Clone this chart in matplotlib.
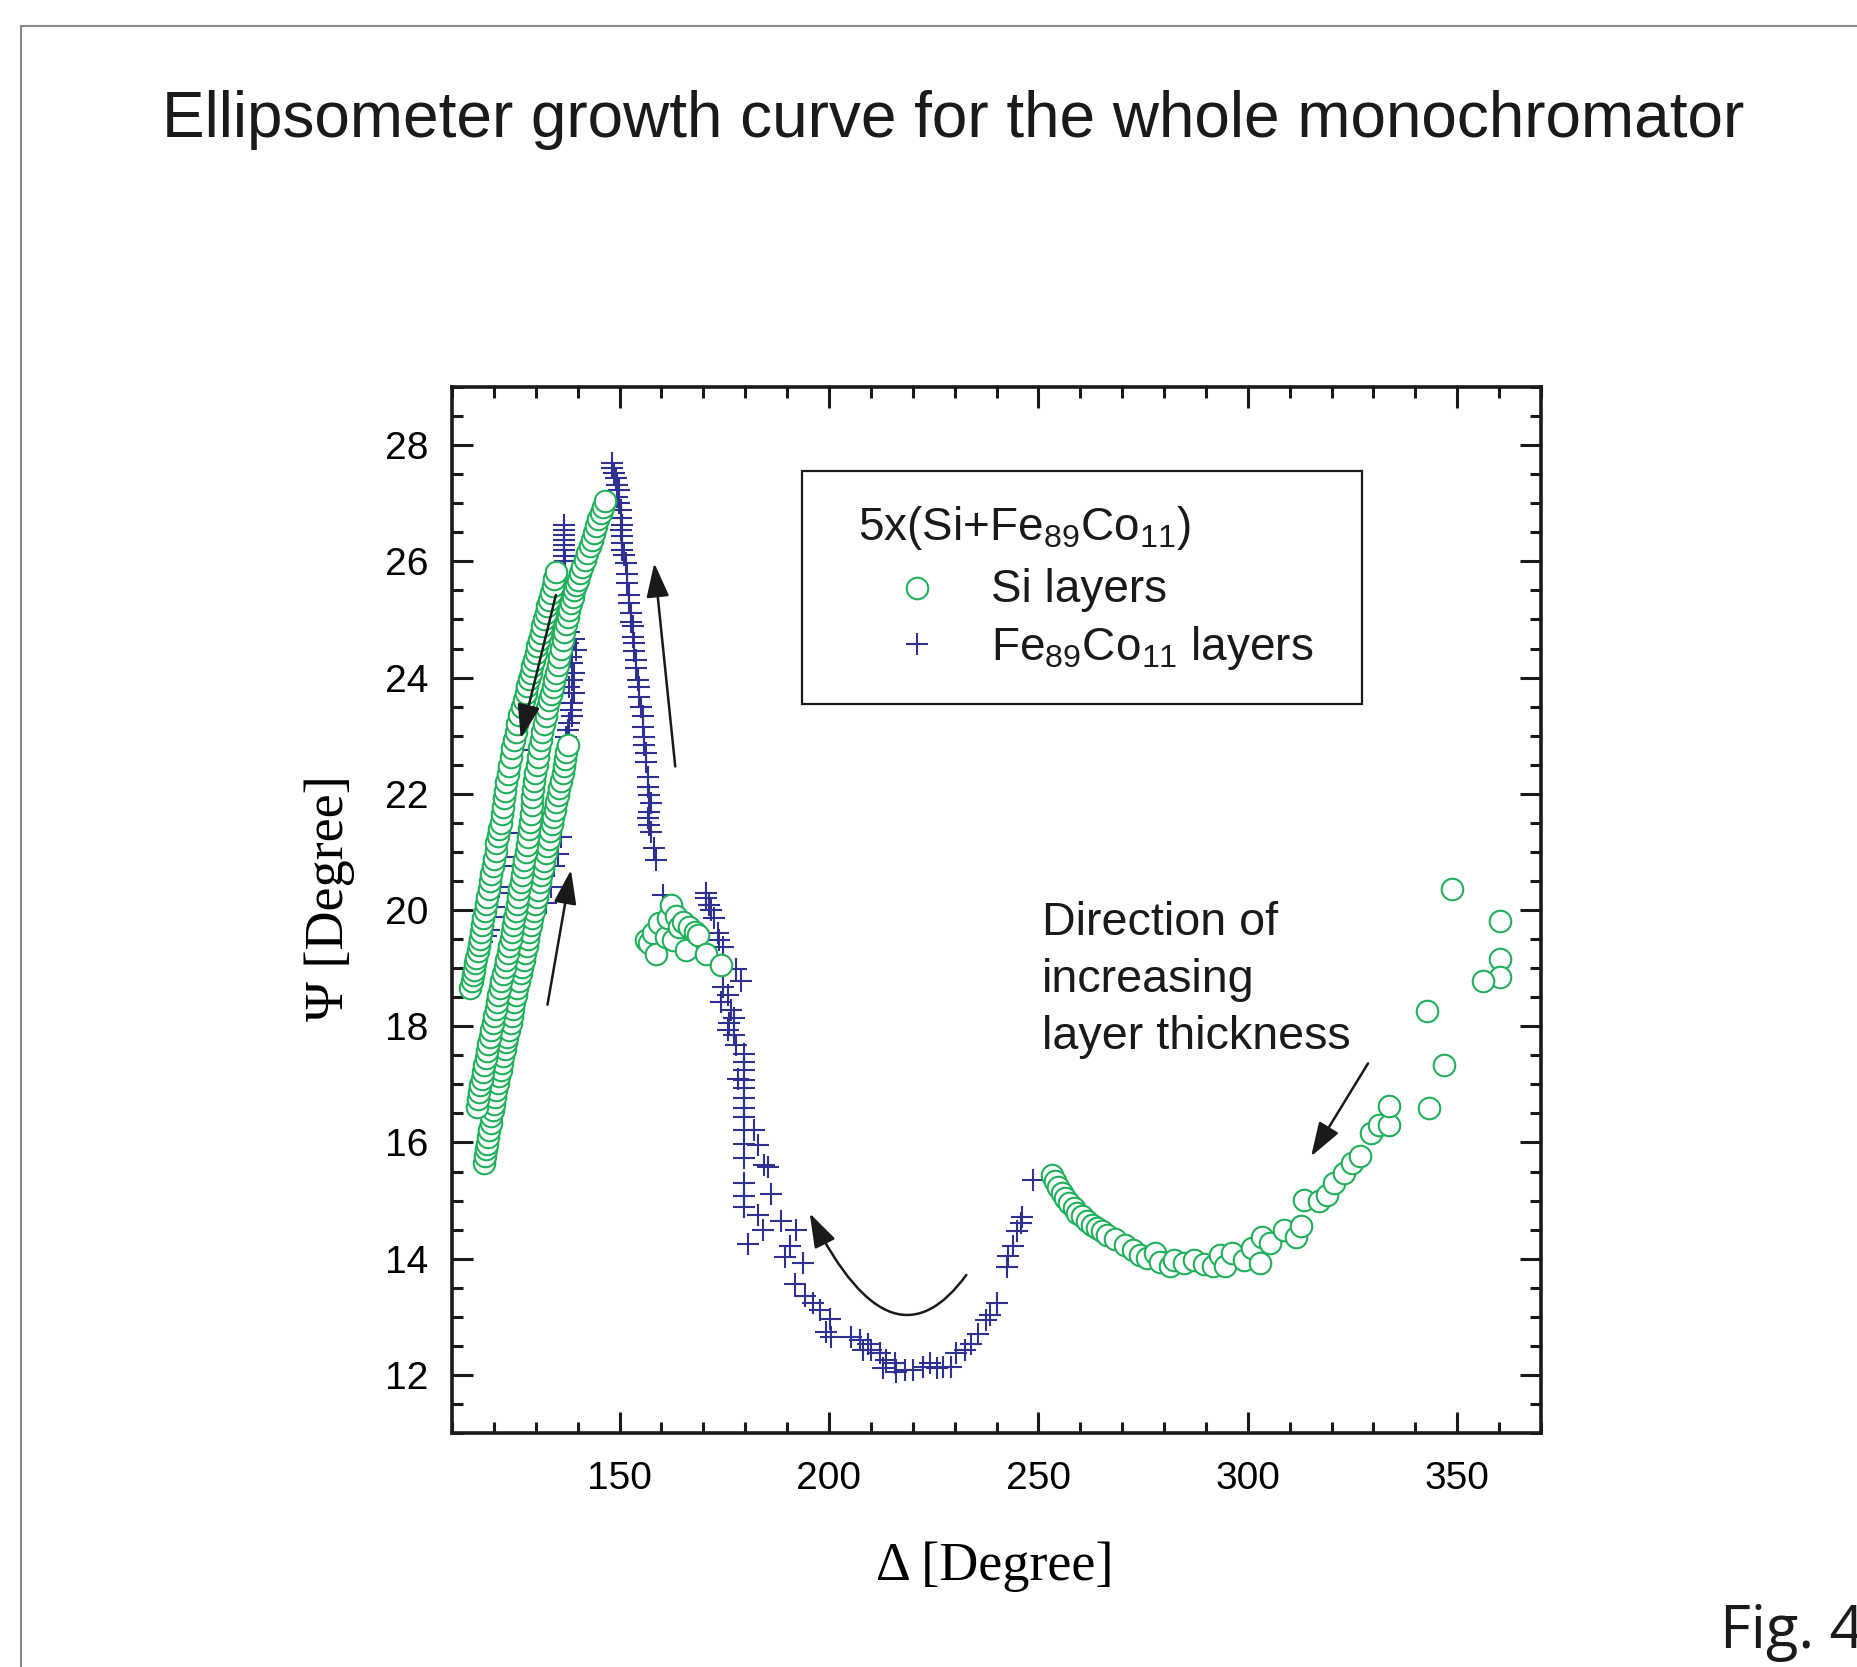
import matplotlib.pyplot as plt
import numpy as np
from matplotlib.lines import Line2D
from matplotlib.patches import Rectangle, FancyArrowPatch
from matplotlib.path import Path
from matplotlib.ticker import MultipleLocator

plt.rcParams['font.family'] = ['Liberation Sans', 'DejaVu Sans']
plt.rcParams['mathtext.default'] = 'regular'

# ---- data: (Delta, Psi) in degrees ----
# Si layers, left bundle (three overlapping growth bands)
si_band_1 = [(114.4, 18.65), (114.7, 18.78), (115.0, 18.88), (115.2, 18.97), (115.5, 19.08), (115.8, 19.18),
             (116.1, 19.30), (116.4, 19.40), (116.8, 19.50), (117.0, 19.62), (117.2, 19.75), (117.5, 19.86),
             (117.9, 19.98), (118.2, 20.10), (118.4, 20.22), (118.8, 20.36), (119.1, 20.50), (119.4, 20.62),
             (119.7, 20.76), (120.0, 20.88), (120.4, 21.02), (120.6, 21.15), (120.9, 21.27), (121.3, 21.40),
             (121.6, 21.50), (121.9, 21.65), (122.1, 21.78), (122.4, 21.92), (122.6, 22.05), (123.0, 22.20),
             (123.3, 22.34), (123.7, 22.48), (124.1, 22.63), (124.4, 22.78), (124.8, 22.92), (125.2, 23.06),
             (125.6, 23.20), (126.1, 23.35), (126.8, 23.50), (127.2, 23.62), (127.6, 23.74), (128.0, 23.85),
             (128.4, 23.97), (128.8, 24.08), (129.2, 24.20), (129.6, 24.31), (130.0, 24.42), (130.4, 24.54),
             (130.8, 24.65), (131.2, 24.77), (131.6, 24.88), (132.0, 25.00), (132.4, 25.11), (132.8, 25.23),
             (133.2, 25.34), (133.6, 25.45), (134.0, 25.57), (134.4, 25.70), (134.8, 25.82)]
si_band_2 = [(117.6, 15.64), (117.8, 15.76), (118.0, 15.88), (118.3, 15.98), (118.6, 16.10), (118.9, 16.22),
             (119.2, 16.33), (119.4, 16.46), (119.7, 16.56), (120.0, 16.66), (120.3, 16.78), (120.6, 16.90),
             (120.9, 17.02), (121.3, 17.14), (121.6, 17.24), (121.9, 17.36), (122.2, 17.48), (122.6, 17.60),
             (122.9, 17.72), (123.2, 17.82), (123.6, 17.94), (124.0, 18.05), (124.3, 18.18), (124.6, 18.30),
             (124.9, 18.42), (125.3, 18.54), (125.6, 18.66), (126.0, 18.78), (126.4, 18.91), (126.7, 19.02),
             (127.1, 19.14), (127.5, 19.26), (127.8, 19.38), (128.1, 19.50), (128.5, 19.62), (128.8, 19.75),
             (129.2, 19.87), (129.5, 19.98), (129.9, 20.10), (130.2, 20.22), (130.6, 20.35), (130.9, 20.48),
             (131.3, 20.60), (131.7, 20.72), (132.0, 20.85), (132.4, 20.98), (132.8, 21.10), (133.1, 21.23),
             (133.5, 21.36), (133.8, 21.48), (134.1, 21.60), (134.5, 21.72), (134.8, 21.85), (135.2, 21.98),
             (135.6, 22.10), (136.0, 22.22), (136.4, 22.36), (136.7, 22.48), (137.0, 22.60), (137.3, 22.72),
             (137.6, 22.84)]
si_band_3 = [(116.0, 16.61), (116.2, 16.74), (116.5, 16.86), (116.8, 16.98), (117.1, 17.10), (117.4, 17.22),
             (117.7, 17.34), (118.0, 17.46), (118.4, 17.58), (118.7, 17.70), (119.0, 17.82), (119.4, 17.94),
             (119.7, 18.06), (120.0, 18.18), (120.4, 18.30), (120.8, 18.42), (121.1, 18.54), (121.5, 18.66),
             (121.8, 18.78), (122.2, 18.90), (122.6, 19.02), (122.9, 19.14), (123.3, 19.26), (123.6, 19.38),
             (124.0, 19.50), (124.3, 19.62), (124.6, 19.74), (124.9, 19.86), (125.2, 19.98), (125.5, 20.10),
             (125.8, 20.23), (126.1, 20.36), (126.4, 20.48), (126.7, 20.60), (127.0, 20.74), (127.3, 20.86),
             (127.6, 21.00), (127.9, 21.12), (128.1, 21.26), (128.4, 21.40), (128.6, 21.52), (128.8, 21.66),
             (129.0, 21.80), (129.2, 21.94), (129.4, 22.08), (129.6, 22.22), (129.9, 22.36), (130.2, 22.50),
             (130.5, 22.64), (130.8, 22.78), (131.2, 22.92), (131.6, 23.06), (132.0, 23.20), (132.4, 23.33),
             (132.8, 23.47), (133.2, 23.61), (133.6, 23.72), (134.0, 23.84), (134.4, 23.96), (134.8, 24.07),
             (135.2, 24.22), (135.6, 24.36), (136.0, 24.50), (136.4, 24.65), (136.8, 24.79), (137.2, 24.93),
             (137.6, 25.05), (138.0, 25.16), (138.4, 25.28), (138.8, 25.39), (139.2, 25.50), (139.6, 25.60),
             (140.0, 25.68), (140.5, 25.80), (141.1, 25.91), (141.7, 26.03), (142.3, 26.14), (142.9, 26.26),
             (143.5, 26.37), (143.9, 26.48), (144.3, 26.60), (144.9, 26.72), (145.5, 26.83), (146.0, 26.93),
             (146.6, 27.03)]
si_cluster = [(156.3, 19.48), (157.1, 19.43), (157.9, 19.60), (158.7, 19.25), (159.5, 19.77), (161.1, 19.54),
              (161.5, 19.86), (162.3, 20.09), (162.7, 19.48), (163.5, 19.89), (164.3, 19.71), (165.1, 19.80),
              (165.9, 19.31), (166.7, 19.71), (167.9, 19.63), (168.7, 19.57), (170.6, 19.25), (174.2, 19.05)]
si_curve = [(253.2, 15.44), (254.0, 15.33), (254.8, 15.24), (255.6, 15.13), (256.4, 15.04), (257.2, 14.96),
            (258.4, 14.87), (259.2, 14.79), (260.4, 14.73), (261.6, 14.64), (262.8, 14.58), (264.0, 14.53),
            (265.2, 14.47), (266.4, 14.41), (268.3, 14.33), (270.7, 14.24), (272.7, 14.15), (274.3, 14.07),
            (275.9, 14.01), (277.9, 14.10), (279.1, 13.95), (281.5, 13.87), (282.3, 13.98), (284.7, 13.93),
            (287.1, 13.98), (289.5, 13.90), (291.8, 13.87), (293.4, 14.07), (294.6, 13.87), (296.2, 14.10),
            (299.0, 13.98), (301.0, 14.18), (303.0, 13.93), (303.4, 14.38), (305.4, 14.27), (308.6, 14.50),
            (311.4, 14.38), (312.6, 14.56), (313.4, 15.01), (317.0, 14.99), (319.0, 15.10), (320.5, 15.30),
            (322.9, 15.47), (324.9, 15.64), (326.9, 15.76), (329.3, 16.16), (331.3, 16.30), (333.7, 16.30),
            (333.7, 16.62), (343.2, 16.59), (346.8, 17.34), (342.9, 18.26), (348.8, 20.36), (360.2, 19.81),
            (360.2, 19.15), (360.2, 18.84), (356.2, 18.77)]

# Fe89Co11 layers
fe_cluster = [(117.2, 19.45), (118.0, 19.56), (118.8, 19.66), (119.6, 19.88), (120.0, 20.06), (120.8, 20.29),
              (121.2, 20.40), (122.0, 20.75), (122.4, 20.92), (123.2, 21.32), (121.6, 18.39), (122.0, 18.74),
              (130.8, 20.69), (132.4, 20.12), (133.6, 20.40), (134.4, 20.75), (135.2, 20.97), (136.0, 21.26),
              (128.8, 22.75), (136.8, 26.63), (136.8, 26.54), (136.8, 26.45), (136.8, 26.37), (136.8, 26.28),
              (136.8, 26.20), (136.8, 26.10), (136.9, 26.00), (137.95, 24.79), (139.1, 24.67), (137.6, 24.59),
              (139.5, 24.47), (138.35, 24.36), (138.75, 24.25), (139.1, 24.07), (138.75, 23.96), (137.95, 23.84),
              (139.1, 23.73), (138.75, 23.56), (138.35, 23.44), (138.75, 23.33), (137.95, 23.21), (137.6, 23.10),
              (137.2, 22.98)]
fe_peak = [(148.2, 27.69), (148.3, 27.60), (148.7, 27.52), (149.1, 27.43), (149.5, 27.31), (149.9, 27.23),
           (149.5, 27.11), (149.9, 27.00), (150.3, 26.88), (150.3, 26.74), (150.7, 26.63), (150.3, 26.54),
           (150.7, 26.43), (150.7, 26.31), (150.7, 26.20), (151.1, 26.11), (151.5, 25.97), (151.9, 25.79),
           (151.9, 25.62), (152.3, 25.42), (152.3, 25.28), (152.7, 25.11), (152.7, 24.96), (153.1, 24.88),
           (153.1, 24.70), (153.5, 24.59), (153.5, 24.45), (153.9, 24.30), (153.9, 24.16), (154.3, 23.96),
           (154.7, 23.84), (154.7, 23.67), (155.1, 23.50), (155.5, 23.33), (155.5, 23.15), (155.9, 22.98),
           (155.9, 22.84), (156.3, 22.70), (156.3, 22.55), (156.7, 22.29), (156.7, 22.12), (157.1, 21.98),
           (157.5, 21.84), (157.1, 21.69), (156.7, 21.58), (157.1, 21.46), (157.5, 21.35), (158.3, 21.06),
           (158.7, 20.86)]
fe_valley = [(160.3, 20.26), (170.6, 20.29), (170.6, 20.20), (171.4, 20.09), (171.8, 20.00), (172.6, 19.86),
             (173.4, 19.60), (173.8, 19.48), (174.6, 19.37), (177.8, 18.99), (179.0, 18.77), (174.6, 18.68),
             (175.8, 18.54), (174.2, 18.42), (176.6, 18.28), (177.4, 18.14), (176.2, 18.05), (175.8, 17.93),
             (177.4, 17.85), (177.8, 17.68), (179.8, 17.53), (179.8, 17.39), (179.8, 17.25), (178.2, 17.10),
             (179.8, 17.07), (179.8, 16.93), (179.8, 16.76), (179.8, 16.59), (179.8, 16.44), (182.2, 16.21),
             (179.8, 16.21), (179.8, 15.98), (183.0, 15.96), (179.8, 15.73), (184.6, 15.61), (185.4, 15.58),
             (179.8, 15.31), (186.2, 15.12), (179.8, 15.07), (179.8, 14.89), (183.0, 14.75), (188.6, 14.64),
             (184.2, 14.49), (192.2, 14.49), (180.6, 14.26), (190.6, 14.21), (189.4, 14.03), (193.8, 13.92),
             (191.8, 13.57), (194.2, 13.35), (196.2, 13.23), (197.8, 13.12), (200.2, 12.97), (199.4, 12.74),
             (200.6, 12.66), (205.3, 12.66), (207.3, 12.60), (209.3, 12.54), (208.1, 12.43), (210.1, 12.43),
             (212.1, 12.37), (213.7, 12.25), (215.7, 12.20), (212.9, 12.11), (216.1, 12.05), (218.1, 12.08),
             (220.1, 12.08), (222.5, 12.14), (224.1, 12.20), (225.7, 12.11), (227.3, 12.14), (229.2, 12.14),
             (230.4, 12.37), (232.4, 12.43), (234.0, 12.54), (235.6, 12.71), (237.6, 12.94), (238.4, 13.03),
             (240.0, 13.23), (242.4, 13.86), (242.8, 14.05), (244.0, 14.22), (245.0, 14.47), (245.8, 14.61),
             (246.2, 14.72), (248.8, 15.36)]

# arrows: (tail, tip)
straight_arrows = [((134.8, 25.42), (126.4, 22.95)),
                   ((132.8, 18.37), (138.4, 20.69)),
                   ((163.3, 22.47), (158.3, 25.97)),
                   ((328.7, 17.36), (315.1, 15.76))]
curved_arrow = [(232.8, 13.72), (221.5, 12.61), (209.4, 12.77), (195.4, 14.78)]

green = '#20b05a'
blue = '#2e3192'
W, H = 1857, 1667


def fx(x):
    return x / W


def fy(y):
    return 1 - y / H


fig = plt.figure(figsize=(W / 100, H / 100), dpi=100)
ax = fig.add_axes([fx(452), fy(1433), 1089 / W, 1046 / H])

fe = np.array(fe_cluster + fe_peak + fe_valley)
ax.plot(fe[:, 0], fe[:, 1], ls='none', marker='+', ms=16, mew=1.5, color=blue, zorder=2)
si = np.array(si_band_2 + si_band_3 + si_band_1 + si_cluster + si_curve)
ax.plot(si[:, 0], si[:, 1], ls='none', marker='o', ms=15.5, mfc='white', mec=green, mew=1.5, zorder=3)

head = '-|>,head_length=0.42,head_width=0.14'
arrow_kw = dict(arrowstyle=head, mutation_scale=50, lw=1.8, color='#1a1a1a', shrinkA=0, shrinkB=0)
for tail, tip in straight_arrows:
    ax.annotate('', xy=tip, xytext=tail, arrowprops=arrow_kw, zorder=4)

curve = Path(curved_arrow, [Path.MOVETO, Path.CURVE4, Path.CURVE4, Path.CURVE4])
ax.add_patch(FancyArrowPatch(path=curve, arrowstyle=head, mutation_scale=50, lw=1.8,
                             color='#1a1a1a', zorder=4))

ax.set_xlim(110, 370)
ax.set_ylim(11, 29)
ax.xaxis.set_major_locator(MultipleLocator(50))
ax.xaxis.set_minor_locator(MultipleLocator(10))
ax.yaxis.set_major_locator(MultipleLocator(2))
ax.yaxis.set_minor_locator(MultipleLocator(0.5))
ax.tick_params(which='both', direction='in', top=True, right=True, width=2.2, labelsize=28, color='#1a1a1a')
ax.tick_params(which='major', length=15)
ax.tick_params(which='minor', length=8)
ax.tick_params(axis='x', pad=20)
ax.tick_params(axis='y', pad=17)
for s in ax.spines.values():
    s.set_linewidth(2.6)
    s.set_color('#1a1a1a')

serif = ['Liberation Serif', 'DejaVu Serif']
fig.text(fx(995), fy(1567), '\u0394 [Degree]', family=serif, fontsize=39, ha='center', va='center')
fig.text(fx(330), fy(898), '\u03a8 [Degree]', family=serif, fontsize=39, ha='center', va='center',
         rotation=90)

fig.text(fx(953), fy(137), 'Ellipsometer growth curve for the whole monochromator',
         fontsize=46, ha='center', va='baseline', color='#1a1a1a')

# legend box
fig.add_artist(Rectangle((fx(802), fy(704)), 560 / W, 233 / H, transform=fig.transFigure,
                         fill=False, lw=1.6, ec='#1a1a1a'))
fig.text(fx(858), fy(540), '5x(Si+Fe$_{89}$Co$_{11}$)', fontsize=33, va='baseline', color='#1a1a1a')
fig.add_artist(Line2D([fx(917)], [fy(588)], marker='o', ms=15.5, mfc='white', mec=green, mew=1.5,
                      transform=fig.transFigure))
fig.add_artist(Line2D([fx(917)], [fy(644)], marker='+', ms=16, mew=1.5, color=blue,
                      transform=fig.transFigure))
fig.text(fx(991), fy(602), 'Si layers', fontsize=33, va='baseline', color='#1a1a1a')
fig.text(fx(991), fy(660), 'Fe$_{89}$Co$_{11}$ layers', fontsize=33, va='baseline', color='#1a1a1a')

for line, base in zip(['Direction of', 'increasing', 'layer thickness'], [935, 992, 1049]):
    fig.text(fx(1042), fy(base), line, fontsize=33.6, va='baseline', color='#1a1a1a')

fig.text(fx(1720), fy(1648), 'Fig. 4', family=['Open Sans', 'DejaVu Sans'], fontsize=43,
         va='baseline', color='#1a1a1a')

# page frame
fig.add_artist(Line2D([fx(21), 1], [fy(26), fy(26)], color='#8a8a8a', lw=1.5, transform=fig.transFigure))
fig.add_artist(Line2D([fx(21), fx(21)], [fy(26), 0], color='#8a8a8a', lw=1.5, transform=fig.transFigure))

fig.savefig('out.png', dpi=100)
